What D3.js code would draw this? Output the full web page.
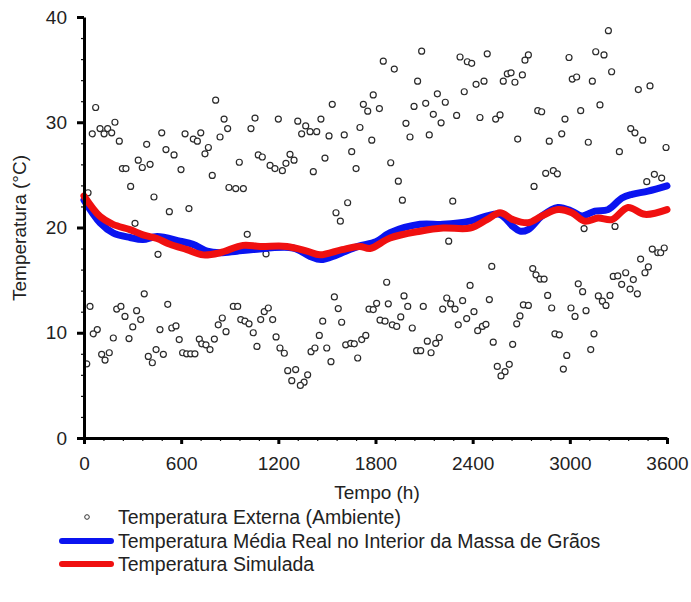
<!DOCTYPE html>
<html>
<head>
<meta charset="utf-8">
<script src="https://cdn.jsdelivr.net/npm/d3@7"></script>
<style>
  body { margin: 0; background: #fff; }
  text { font-family: "Liberation Sans", Arial, sans-serif; fill: #222; }
</style>
</head>
<body>
<div id="chart"></div>
<script>
// External (ambient) temperature readings: [hours, °C]
const externalTemp = [
  [72,31.4],[813,32.1],[191,30.0],[51,28.9],[99,29.4],[124,28.9],[146,29.4],[171,29.0],[218,28.2],[387,27.9],
  [480,29.0],[506,27.4],[556,26.9],[624,28.9],[675,28.4],[700,28.2],[721,29.0],[768,27.6],[747,27.0],[840,28.6],
  [865,30.3],[887,29.4],[335,26.4],[360,25.7],[408,26.0],[237,25.6],[259,25.6],[599,25.5],[792,24.95],[288,23.9],
  [432,22.9],[527,21.5],[648,21.8],[895,23.8],[315,20.4],[25,23.3],[457,17.45],
  [372,13.7],[37,12.5],[517,12.7],[202,12.25],[228,12.5],[325,12.1],[253,11.55],[350,11.25],[301,10.55],[82,10.3],
  [57,9.9],[181,9.5],[278,9.45],[469,10.3],[542,10.45],[568,10.65],[588,9.35],[712,9.4],[727,8.95],[753,8.85],
  [805,9.4],[778,8.4],[829,10.75],[854,11.4],[877,10.1],[17,7.05],[109,7.95],[156,8.1],[130,7.4],[397,7.75],
  [422,7.15],[445,8.4],[490,7.95],[609,8.1],[634,8.0],[659,8.0],[685,8.0],
  [1056,30.4],[1031,29.4],[1200,30.3],[1320,30.1],[1369,29.65],[1344,28.9],[1396,29.1],[1437,29.1],[1463,30.3],[1533,31.7],
  [1513,28.7],[1607,28.8],[1725,31.7],[1752,31.05],[1704,29.5],[1777,28.3],[1786,32.6],[959,26.2],[1076,26.9],[1101,26.7],
  [1149,25.9],[1179,25.6],[1225,25.4],[1247,26.1],[1272,26.95],[1297,26.4],[1416,25.3],[1488,26.6],[1653,27.2],[1680,25.6],
  [937,23.7],[984,23.7],[1628,22.35],[1556,21.4],[1583,20.6],[1008,19.35],[1124,17.5],
  [922,12.5],[949,12.5],[968,11.25],[994,11.1],[1019,10.85],[1045,10.0],[1091,11.25],[1113,12.0],[1138,12.35],[1165,11.25],
  [1186,9.6],[1068,8.7],[1210,8.55],[1237,8.05],[1258,6.4],[1307,6.5],[1283,5.45],[1381,6.0],[1359,5.3],[1336,5.0],
  [1402,8.2],[1426,8.55],[1453,9.75],[1474,11.1],[1499,8.55],[1525,7.25],[1546,13.4],[1570,12.3],[1591,11.0],[1616,8.85],
  [1647,9.0],[1669,8.95],[1690,7.6],[1715,9.35],[1740,9.75],[1760,12.25],[1786,12.2],
  [2085,36.75],[1848,35.8],[1916,35.05],[2322,36.2],[2367,35.75],[2394,35.6],[2490,36.5],[2060,33.9],[1824,31.3],[2038,31.5],
  [2110,31.8],[2182,32.7],[2231,31.9],[2157,30.75],[2205,29.95],[2301,30.65],[2348,32.9],[2421,33.6],[2470,33.9],[2445,30.45],
  [2542,30.3],[2569,30.7],[2589,33.9],[2614,34.6],[2637,34.7],[2661,33.8],[1988,29.9],[2013,28.6],[2132,28.8],[2678,28.4],
  [1894,26.15],[1941,24.4],[1966,22.6],[2277,22.5],[2252,18.7],
  [2518,16.3],[1869,14.8],[2384,14.5],[1976,13.5],[2240,13.3],[2264,12.75],[2291,12.25],[2338,13.05],[2503,13.15],[1807,12.8],
  [1879,12.75],[1999,12.5],[2095,12.5],[2215,12.25],[2408,12.0],[1828,11.2],[1859,11.1],[1904,10.75],[1931,10.6],[1956,11.5],
  [2027,10.45],[2311,10.75],[2363,11.35],[2431,10.2],[2460,10.6],[2482,10.8],[2672,10.85],[2194,9.55],[2172,9.0],[2120,9.2],
  [2054,8.3],[2079,8.3],[2143,8.1],[2527,9.1],[2647,8.9],[2552,6.8],[2600,6.3],[2626,7.0],[2575,5.9],
  [3238,38.7],[2744,36.4],[2723,35.9],[2995,36.15],[3160,36.7],[3211,36.4],[3258,34.8],[2707,34.5],[3015,34.1],[3042,34.3],
  [3139,33.9],[3423,33.1],[3495,33.45],[2802,31.1],[2826,31.0],[3067,31.1],[3186,31.65],[2970,30.3],[2950,28.9],[2873,28.2],
  [3114,28.1],[3376,29.4],[3402,29.0],[3450,28.3],[3306,27.2],[3594,27.6],[2851,25.15],[2898,25.4],[2923,25.1],[2779,23.9],
  [3475,24.35],[3522,25.05],[3567,24.7],[3088,19.9],[3279,20.1],
  [3509,17.95],[3543,17.6],[3561,17.6],[3583,18.05],[3437,17.0],[3485,16.25],[3464,15.7],[2771,16.1],[2791,15.5],[2816,15.1],
  [2841,15.1],[3268,15.35],[3296,15.4],[3345,15.7],[3392,15.05],[3320,14.6],[3372,14.15],[3417,13.7],[3052,14.65],[3079,13.9],
  [2863,13.55],[3176,13.5],[3201,13.0],[3223,12.6],[3248,13.55],[2713,12.65],[2744,12.6],[2888,12.35],[3007,12.35],[3032,11.55],
  [3100,12.1],[2692,11.6],[2908,9.9],[2935,9.8],[3149,9.9],[2981,7.85],[3129,8.4],[2960,6.55]
];

// Measured mean temperature inside the grain mass
const realTemp = [
  [0,22.6],[99,20.45],[179,19.5],[284,19.05],[364,18.85],[451,19.15],[593,18.7],[673,18.4],[760,17.75],[840,17.6],
  [945,17.75],[1044,17.9],[1291,18.05],[1396,17.25],[1463,16.95],[1562,17.4],[1692,18.2],[1803,18.65],[1890,19.5],[2075,20.3],
  [2217,20.3],[2384,20.6],[2488,21.1],[2569,21.25],[2649,20.1],[2692,19.65],[2742,19.8],[2828,21.1],[2927,21.9],[3013,21.55],
  [3075,21.1],[3155,21.55],[3236,21.7],[3322,22.8],[3384,23.15],[3483,23.45],[3600,23.95]
];

// Simulated temperature
const simTemp = [
  [0,23.0],[99,21.05],[179,20.3],[284,19.8],[364,19.3],[451,18.95],[531,18.4],[636,17.9],[735,17.4],[840,17.6],
  [982,18.3],[1087,18.2],[1253,18.2],[1377,17.75],[1457,17.4],[1593,17.9],[1704,18.2],[1766,18.0],[1890,19.0],[2075,19.65],
  [2217,19.95],[2384,19.95],[2488,20.75],[2569,21.4],[2649,20.75],[2742,20.45],[2828,21.1],[2927,21.7],[3013,21.4],[3093,20.6],
  [3174,20.9],[3260,20.75],[3359,21.9],[3464,21.25],[3600,21.7]
];

const xTicks = [0, 600, 1200, 1800, 2400, 3000, 3600];
const yTicks = [0, 10, 20, 30, 40];
const legendLabels = [
  "Temperatura Externa (Ambiente)",
  "Temperatura Média Real no Interior da Massa de Grãos",
  "Temperatura Simulada"
];

const margin = { top: 17, right: 24, bottom: 164, left: 84 };
const width = 691 - margin.left - margin.right;
const height = 602 - margin.top - margin.bottom;

const root = d3.select("#chart")
  .append("svg")
  .attr("width", 691)
  .attr("height", 602);

const svg = root.append("g")
  .attr("transform", `translate(${margin.left},${margin.top})`);

const x = d3.scaleLinear().domain([0, 3600]).range([0, width]);
const y = d3.scaleLinear().domain([0, 40]).range([height, 0]);

// scatter of ambient temperature
svg.append("g")
  .selectAll("circle")
  .data(externalTemp)
  .enter().append("circle")
  .attr("cx", d => x(d[0]))
  .attr("cy", d => y(d[1]))
  .attr("r", 3)
  .attr("fill", "#fff")
  .attr("stroke", "#2a2a2a")
  .attr("stroke-width", 1.2);

const line = d3.line()
  .x(d => x(d[0]))
  .y(d => y(d[1]))
  .curve(d3.curveCatmullRom);

svg.append("path")
  .datum(realTemp)
  .attr("fill", "none")
  .attr("stroke", "#0a14f0")
  .attr("stroke-width", 7)
  .attr("stroke-linecap", "round")
  .attr("d", line);

svg.append("path")
  .datum(simTemp)
  .attr("fill", "none")
  .attr("stroke", "#f01010")
  .attr("stroke-width", 7)
  .attr("stroke-linecap", "round")
  .attr("d", line);

// minor ticks
svg.append("g")
  .attr("transform", `translate(0,${height})`)
  .call(d3.axisBottom(x).tickValues(d3.range(0, 3600, 120)).tickSize(3).tickFormat(""))
  .call(g => g.select(".domain").remove())
  .call(g => g.selectAll("line").attr("stroke", "#111").attr("stroke-width", 1.2));

svg.append("g")
  .call(d3.axisLeft(y).tickValues(d3.range(0, 40, 2)).tickSize(3).tickFormat(""))
  .call(g => g.select(".domain").remove())
  .call(g => g.selectAll("line").attr("stroke", "#111").attr("stroke-width", 1.2));

// x axis
svg.append("g")
  .attr("transform", `translate(0,${height})`)
  .call(d3.axisBottom(x).tickValues(xTicks).tickFormat(d3.format("d"))
    .tickSize(6).tickSizeOuter(0).tickPadding(13))
  .call(g => g.select(".domain").attr("stroke", "#000").attr("stroke-width", 3))
  .call(g => g.selectAll(".tick line").attr("stroke", "#000").attr("stroke-width", 3))
  .call(g => g.selectAll("text").style("font-size", "19px").attr("fill", "#222"));

// y axis
svg.append("g")
  .call(d3.axisLeft(y).tickValues(yTicks).tickFormat(d3.format("d"))
    .tickSize(7).tickSizeOuter(0).tickPadding(10))
  .call(g => g.select(".domain").attr("stroke", "#000").attr("stroke-width", 3))
  .call(g => g.selectAll(".tick line").attr("stroke", "#000").attr("stroke-width", 3))
  .call(g => g.selectAll("text").style("font-size", "19px").attr("fill", "#222"));

// axis titles
root.append("text")
  .attr("x", 377)
  .attr("y", 499)
  .attr("text-anchor", "middle")
  .style("font-size", "19px")
  .text("Tempo (h)");

root.append("text")
  .attr("transform", "translate(26,228) rotate(-90)")
  .attr("text-anchor", "middle")
  .style("font-size", "19px")
  .text("Temperatura (°C)");

// legend
const legend = root.append("g");
const rows = [517, 541, 564];

legend.append("circle")
  .attr("cx", 87)
  .attr("cy", rows[0])
  .attr("r", 2.3)
  .attr("fill", "#fff")
  .attr("stroke", "#333")
  .attr("stroke-width", 1);

legend.append("line")
  .attr("x1", 62).attr("x2", 111)
  .attr("y1", rows[1]).attr("y2", rows[1])
  .attr("stroke", "#0a14f0")
  .attr("stroke-width", 6)
  .attr("stroke-linecap", "round");

legend.append("line")
  .attr("x1", 62).attr("x2", 111)
  .attr("y1", rows[2]).attr("y2", rows[2])
  .attr("stroke", "#f01010")
  .attr("stroke-width", 6)
  .attr("stroke-linecap", "round");

legend.selectAll(".legend-text")
  .data(legendLabels)
  .enter().append("text")
  .attr("class", "legend-text")
  .attr("x", 118)
  .attr("y", (d, i) => rows[i])
  .attr("dy", "0.35em")
  .style("font-size", "19.5px")
  .text(d => d);
</script>
</body>
</html>
